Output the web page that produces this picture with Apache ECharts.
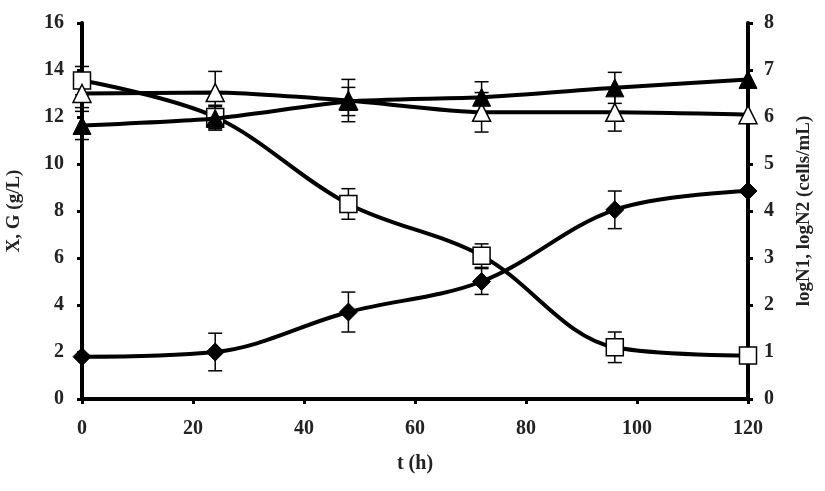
<!DOCTYPE html>
<html>
<head>
<meta charset="utf-8">
<script src="https://cdn.jsdelivr.net/npm/echarts@6/dist/echarts.min.js"></script>
<style>
  html, body { margin: 0; padding: 0; background: #fff; }
  #chart { width: 825px; height: 491px; }
</style>
</head>
<body>
<div id="chart"></div>
<script>
// time points (h)
const times = [0, 24, 48, 72, 96, 120];
// X, G on left axis (g/L)
const biomassX = [1.8, 2.0, 3.7, 5.0, 8.05, 8.85];
const biomassErr = [0, 0.8, 0.85, 0.55, 0.8, 0];
const glucoseG = [13.55, 12.0, 8.3, 6.1, 2.2, 1.85];
const glucoseErr = [0.6, 0.5, 0.65, 0.5, 0.65, 0];
// logN1, logN2 on right axis (cells/mL)
const logN1 = [5.82, 5.97, 6.33, 6.42, 6.62, 6.8];
const logN1Err = [0.3, 0.25, 0.3, 0.33, 0.33, 0];
const logN2 = [6.5, 6.52, 6.35, 6.1, 6.1, 6.05];
const logN2Err = [0.3, 0.45, 0.45, 0.42, 0.4, 0];

const font = "Liberation Serif";
const chart = echarts.init(document.getElementById("chart"));

const pairs = (vals) => times.map((t, i) => [t, vals[i]]);
const errData = (vals, errs) =>
  times.map((t, i) => [t, vals[i] - errs[i], vals[i] + errs[i]]).filter((d, i) => errs[i] > 0);

// error bars drawn with axis coords
function errorSeries(vals, errs, yAxisIndex) {
  return {
    type: "custom",
    yAxisIndex: yAxisIndex,
    z: 1,
    silent: true,
    data: errData(vals, errs),
    renderItem: function (params, api) {
      const lo = api.coord([api.value(0), api.value(1)]);
      const hi = api.coord([api.value(0), api.value(2)]);
      const w = 7;
      const style = { stroke: "#000", lineWidth: 1.5 };
      return {
        type: "group",
        children: [
          { type: "line", shape: { x1: lo[0], y1: lo[1], x2: hi[0], y2: hi[1] }, style },
          { type: "line", shape: { x1: lo[0] - w, y1: lo[1], x2: lo[0] + w, y2: lo[1] }, style },
          { type: "line", shape: { x1: hi[0] - w, y1: hi[1], x2: hi[0] + w, y2: hi[1] }, style },
        ],
      };
    },
  };
}

const lineStyle = { color: "#000", width: 4 };
const labelStyle = { fontFamily: font, fontWeight: "bold", fontSize: 20, color: "#222" };

chart.setOption({
  animation: false,
  grid: { left: 82, right: 77, top: 23, bottom: 92, outerBoundsMode: "none" },
  xAxis: {
    type: "value",
    min: 0,
    max: 120,
    interval: 20,
    name: "t (h)",
    nameLocation: "middle",
    nameGap: 55,
    nameTextStyle: { fontFamily: font, fontWeight: "bold", fontSize: 20, color: "#222" },
    axisLine: { lineStyle: { color: "#000", width: 4 } },
    axisTick: { length: 5, lineStyle: { color: "#000", width: 3 } },
    axisLabel: Object.assign({ margin: 20 }, labelStyle),
    splitLine: { show: false },
  },
  yAxis: [
    {
      type: "value",
      min: 0,
      max: 16,
      interval: 2,
      name: "X, G (g/L)",
      nameLocation: "middle",
      nameGap: 58,
      nameTextStyle: { fontFamily: font, fontWeight: "bold", fontSize: 19, color: "#222" },
      axisLine: { show: true, lineStyle: { color: "#000", width: 4 } },
      axisTick: { show: true, length: 5, lineStyle: { color: "#000", width: 3 } },
      axisLabel: Object.assign({ margin: 18 }, labelStyle),
      splitLine: { show: false },
    },
    {
      type: "value",
      min: 0,
      max: 8,
      interval: 1,
      position: "right",
      name: "logN1, logN2 (cells/mL)",
      nameLocation: "middle",
      nameGap: 47,
      nameTextStyle: { fontFamily: font, fontWeight: "bold", fontSize: 19, color: "#222" },
      axisLine: { show: true, lineStyle: { color: "#000", width: 4 } },
      axisTick: { show: true, length: 5, lineStyle: { color: "#000", width: 3 } },
      axisLabel: Object.assign({ margin: 16 }, labelStyle),
      splitLine: { show: false },
    },
  ],
  series: [
    errorSeries(biomassX, biomassErr, 0),
    errorSeries(glucoseG, glucoseErr, 0),
    errorSeries(logN2, logN2Err, 1),
    errorSeries(logN1, logN1Err, 1),
    {
      name: "X",
      type: "line",
      smooth: 0.35,
      data: pairs(biomassX),
      symbol: "diamond",
      symbolSize: 18,
      lineStyle: lineStyle,
      itemStyle: { color: "#000", borderColor: "#000" },
      z: 3,
    },
    {
      name: "G",
      type: "line",
      smooth: 0.35,
      data: pairs(glucoseG),
      symbol: "rect",
      symbolSize: 17,
      lineStyle: lineStyle,
      itemStyle: { color: "#fff", borderColor: "#000", borderWidth: 1.5 },
      z: 3,
    },
    {
      name: "logN2",
      type: "line",
      yAxisIndex: 1,
      smooth: 0.2,
      data: pairs(logN2),
      symbol: "triangle",
      symbolSize: 18,
      lineStyle: lineStyle,
      itemStyle: { color: "#fff", borderColor: "#000", borderWidth: 1.5 },
      z: 4,
    },
    {
      name: "logN1",
      type: "line",
      yAxisIndex: 1,
      smooth: 0.2,
      data: pairs(logN1),
      symbol: "triangle",
      symbolSize: 18,
      lineStyle: lineStyle,
      itemStyle: { color: "#000", borderColor: "#000" },
      z: 5,
    },
  ],
});
</script>
</body>
</html>
